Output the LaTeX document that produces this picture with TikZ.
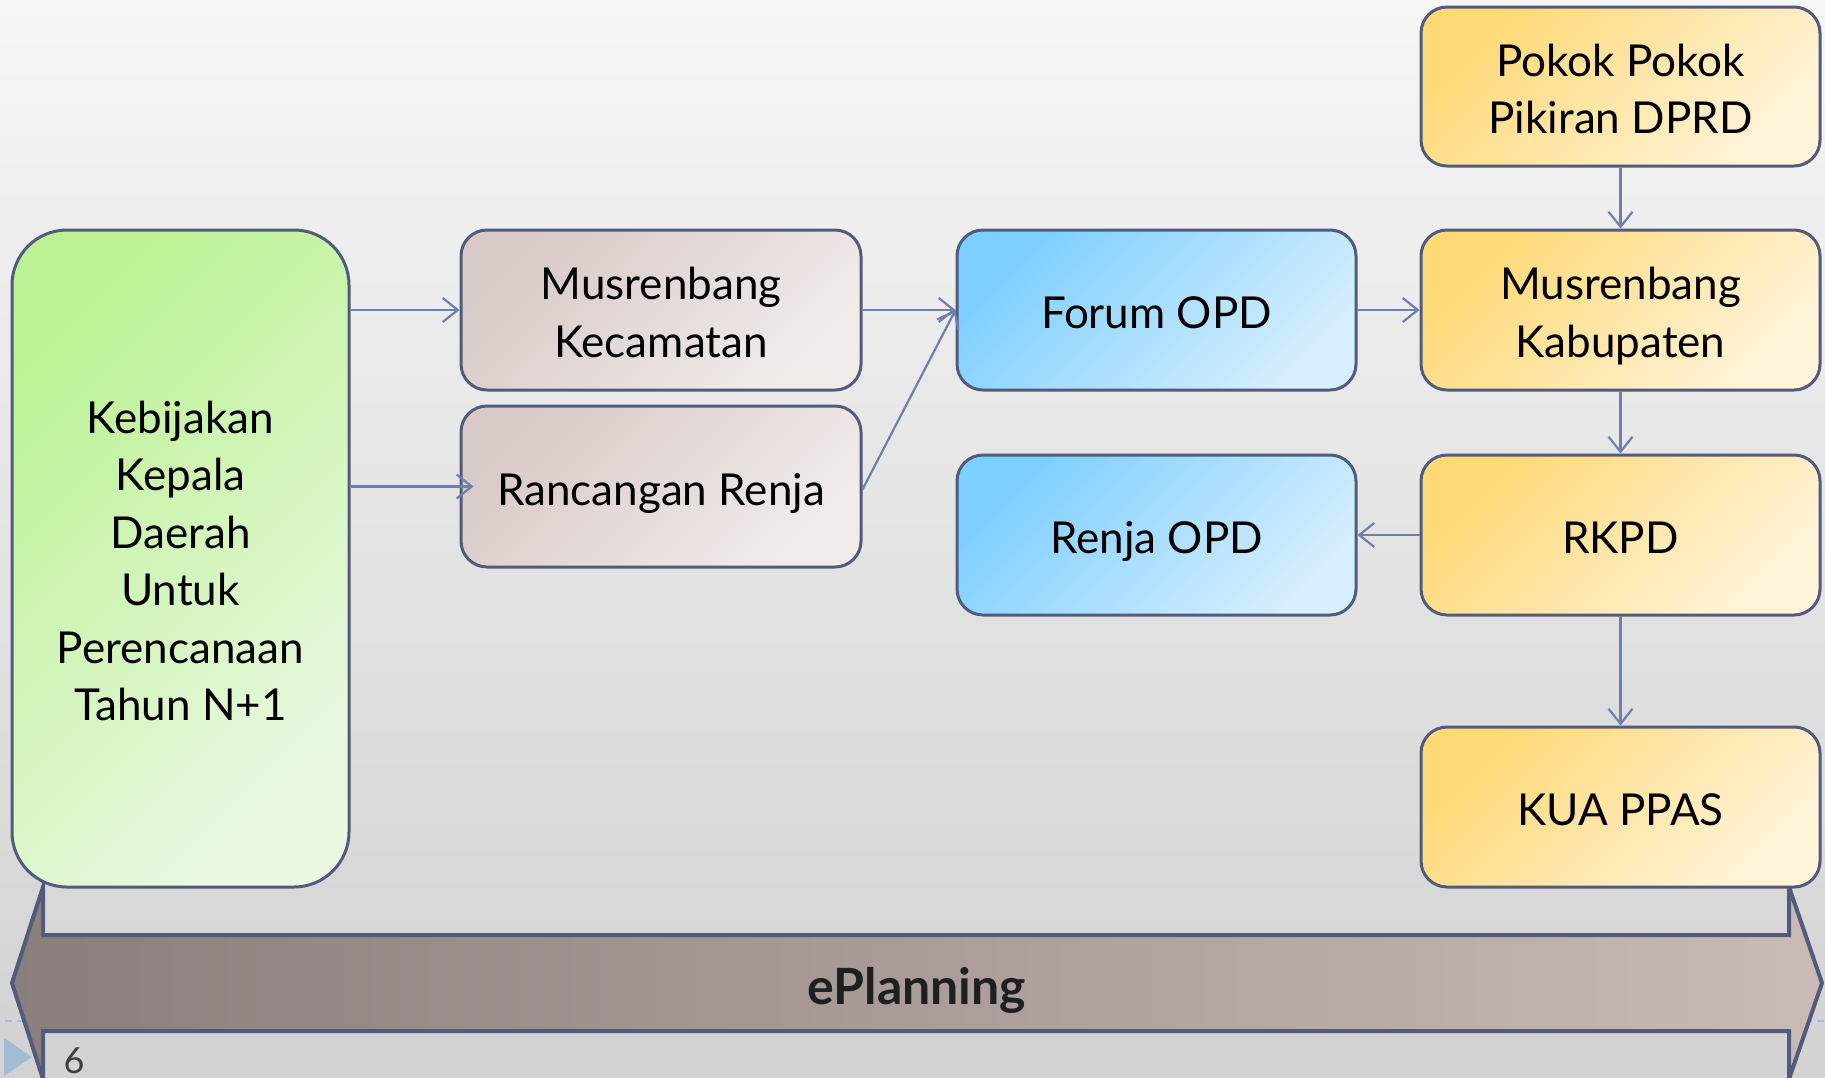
\documentclass[tikz,border=0pt]{standalone}
\usepackage{fontspec}
\setmainfont{Lato}
\usetikzlibrary{arrows.meta}
\definecolor{edgec}{HTML}{515B7B}
\definecolor{connc}{HTML}{6F7FAD}
\definecolor{bgtop}{HTML}{F6F6F6}
\definecolor{bgbot}{HTML}{D2D2D2}
\definecolor{grA}{HTML}{BCF294}
\definecolor{grB}{HTML}{EAF8E2}
\definecolor{brA}{HTML}{D8CAC6}
\definecolor{brB}{HTML}{F1ECEA}
\definecolor{blA}{HTML}{7DCFFF}
\definecolor{blB}{HTML}{D6EEFD}
\definecolor{ylA}{HTML}{FFD976}
\definecolor{ylB}{HTML}{FFF3DA}
\definecolor{arA}{HTML}{8A7E7C}
\definecolor{arB}{HTML}{C9BAB6}
\definecolor{trc}{HTML}{A2BCD4}
\definecolor{pgc}{HTML}{3F3F3F}
\newcommand\lnstrut{\rule[-10pt]{0pt}{57pt}}
\begin{document}
\begin{tikzpicture}[x=1pt,y=-1pt,
  box/.style={draw=edgec, line width=3pt, rounded corners=26pt, align=center,
    font=\fontsize{44}{57.5}\selectfont, inner sep=0pt, text=black,
    minimum width=399pt, minimum height=160pt},
  greenbox/.style={box, top color=grA, bottom color=grB, shading angle=45, rounded corners=55pt},
  brownbox/.style={box, top color=brA, bottom color=brB, shading angle=45},
  bluebox/.style={box, top color=blA, bottom color=blB, shading angle=45},
  yellowbox/.style={box, top color=ylA, bottom color=ylB, shading angle=45},
  conn/.style={draw=connc, line width=2.2pt, -{Straight Barb[length=15pt,width=24pt,line width=2.2pt]}}
]
\useasboundingbox (0,0) rectangle (1825,1077);
\shade[top color=bgtop, bottom color=bgbot] (0,0) rectangle (1825,1077);

% faint dashed line and slide marker
\draw[trc, line width=2pt, dash pattern=on 7pt off 5pt] (5,1021) -- (1825,1021);
\fill[trc] (4,1038) -- (32,1057) -- (4,1076) -- cycle;

% ePlanning double arrow
\draw[line width=4pt, draw=edgec, left color=arA, right color=arB]
  (12,983) -- (43,887) -- (43,935) -- (1789,935) -- (1789,887) -- (1822,983)
  -- (1789,1079) -- (1789,1031) -- (43,1031) -- (43,1079) -- cycle;
\node[font=\fontsize{50}{52}\selectfont\bfseries, text=black!88] (ep) at (917,990) {ePlanning};

\node[anchor=base west, font=\fontsize{36}{40}\selectfont, text=pgc] (pg) at (60,1073) {6};

% boxes
\node[greenbox, minimum width=337pt, minimum height=657pt] (keb) at (180.5,558.5)
  {\lnstrut Kebijakan\\\lnstrut Kepala\\\lnstrut Daerah\\\lnstrut Untuk\\\lnstrut Perencanaan\\\lnstrut Tahun N+1};
\node[brownbox, minimum width=400pt] (kec) at (661,310) {\lnstrut Musrenbang\\\lnstrut Kecamatan};
\node[brownbox, minimum width=400pt, minimum height=161pt] (ran) at (661,486.5) {\lnstrut Rancangan Renja};
\node[bluebox] (forum) at (1156.5,310) {\lnstrut Forum OPD};
\node[bluebox] (renja) at (1156.5,535) {\lnstrut Renja OPD};
\node[yellowbox, minimum height=159pt] (pokok) at (1620.5,86.5) {\lnstrut Pokok Pokok\\\lnstrut Pikiran DPRD};
\node[yellowbox] (kab) at (1620.5,310) {\lnstrut Musrenbang\\\lnstrut Kabupaten};
\node[yellowbox] (rkpd) at (1620.5,535) {\lnstrut RKPD};
\node[yellowbox] (kua) at (1620.5,807) {\lnstrut KUA PPAS};

% connectors
\draw[conn] (kec.west -| keb.east) -- (kec.west);
\draw[conn, shorten >=-14pt] (ran.west -| keb.east) -- (ran.west);
\draw[conn] (kec.east) -- (forum.west);
\draw[conn] ([yshift=-3pt]ran.east) -- (forum.west);
\draw[conn] (forum.east) -- (kab.west);
\draw[conn] (pokok.south) -- (kab.north);
\draw[conn] (kab.south) -- (rkpd.north);
\draw[conn] (rkpd.west) -- (renja.east);
\draw[conn] (rkpd.south) -- (kua.north);
\end{tikzpicture}
\end{document}
